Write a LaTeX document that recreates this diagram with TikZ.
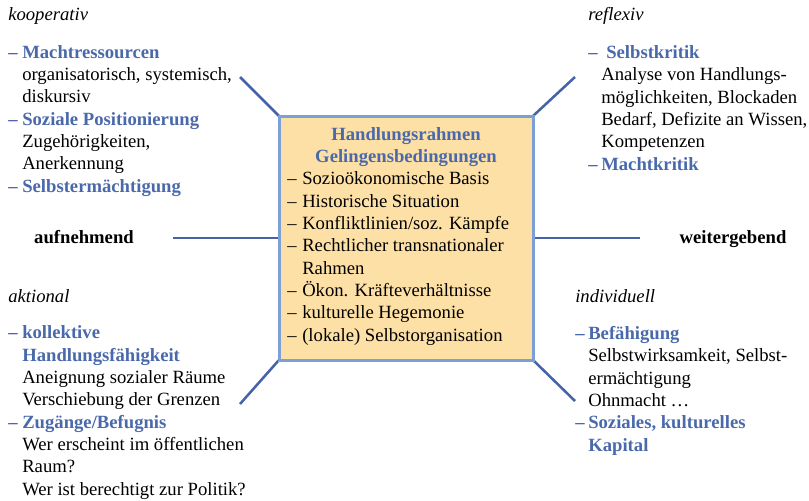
\documentclass[tikz,border=0pt]{standalone}
\usepackage{fontspec}
\setmainfont{Liberation Serif}
\usetikzlibrary{backgrounds}
\definecolor{hblue}{HTML}{4A69AB}
\definecolor{lblue}{HTML}{4563A6}
\definecolor{bblue}{HTML}{7C9FD6}
\definecolor{bfill}{HTML}{FDE0A5}
\newcommand{\hd}[1]{\textcolor{hblue}{\textbf{#1}}}
\newcommand{\dl}{\llap{\makebox[10.5pt][l]{–}}}
\newcommand{\dr}{\llap{\makebox[9.75pt][l]{–}}}
\newcommand{\db}{\llap{\makebox[11.25pt][l]{–}}}
\tikzset{
  txt/.style={inner sep=0pt, anchor=base west, align=left, font=\fontsize{14}{16.75}\selectfont},
  lbl/.style={inner sep=0pt, anchor=base west, font=\fontsize{14}{16.75}\selectfont\itshape},
  side/.style={inner sep=0pt, anchor=base, font=\fontsize{14}{16.75}\selectfont\bfseries},
  conn/.style={draw=lblue, line width=1.9pt},
  frame/.style={draw=bblue, fill=bfill, line width=2.25pt, inner sep=0pt, outer sep=0pt,
    anchor=north west, minimum width=190.5pt, minimum height=183pt},
}
\begin{document}
\begin{tikzpicture}[x=0.75pt, y=-0.75pt]
\useasboundingbox (0,0) rectangle (809,500);
\node[frame] (box) at (279,116) {};
\coordinate (ctl) at (240,77);
\coordinate (ctr) at (575,77);
\coordinate (cbl) at (240,404);
\coordinate (cbr) at (575,401);
\coordinate (cl) at (173,238);
\coordinate (cr) at (640,238);
\begin{pgfonlayer}{background}
\draw[conn] (box.north west) -- (ctl);
\draw[conn] (box.north east) -- (ctr);
\draw[conn] (box.south west) -- (cbl);
\draw[conn] (box.south east) -- (cbr);
\draw[conn] (box.west) -- (cl);
\draw[conn] (box.east) -- (cr);
\end{pgfonlayer}
% box content (multi-line nodes: base = last line)
\node[inner sep=0pt, anchor=base, font=\fontsize{14}{16.75}\selectfont\bfseries, text=hblue] (h1) at (406,140) {Handlungsrahmen};
\node[inner sep=0pt, anchor=base, font=\fontsize{14}{16.75}\selectfont\bfseries, text=hblue] (h2) at (406,162) {Gelingensbedingungen};
\node[txt] (items) at (302,341) {\db Sozioökonomische Basis\\
\db Historische Situation\\
\db Konfliktlinien/soz. Kämpfe\\
\db Rechtlicher transnationaler\\
Rahmen\\
\db Ökon. Kräfteverhältnisse\\
\db kulturelle Hegemonie\\
\db (lokale) Selbstorganisation};
% labels
\node[lbl] (koop) at (8,20) {kooperativ};
\node[lbl] (refl) at (588,20) {reflexiv};
\node[lbl] (akt) at (8,302) {aktional};
\node[lbl] (ind) at (575,302) {individuell};
\node[side] (auf) at (84,243) {aufnehmend};
\node[side] (weit) at (733,243) {weitergebend};
% blocks
\node[txt] (tl) at (22,192) {\hd{\dl Machtressourcen}\\
organisatorisch, systemisch,\\
diskursiv\\
\hd{\dl Soziale Positionierung}\\
Zugehörigkeiten,\\
Anerkennung\\
\hd{\dl Selbstermächtigung}};
\node[txt] (bl) at (22,495) {\hd{\dl kollektive}\\
\hd{Handlungsfähigkeit}\\
Aneignung sozialer Räume\\
Verschiebung der Grenzen\\
\hd{\dl Zugänge/Befugnis}\\
Wer erscheint im öffentlichen\\
Raum?\\
Wer ist berechtigt zur Politik?};
\node[txt] (tr) at (601,170) {\hd{\dr\hspace{3.75pt}Selbstkritik}\\
Analyse von Handlungs-\\
möglichkeiten, Blockaden\\
Bedarf, Defizite an Wissen,\\
Kompetenzen\\
\hd{\dr Machtkritik}};
\node[txt] (br) at (588,451) {\hd{\dr Befähigung}\\
Selbstwirksamkeit, Selbst-\\
ermächtigung\\
Ohnmacht …\\
\hd{\dr Soziales, kulturelles}\\
\hd{Kapital}};
\end{tikzpicture}
\end{document}
